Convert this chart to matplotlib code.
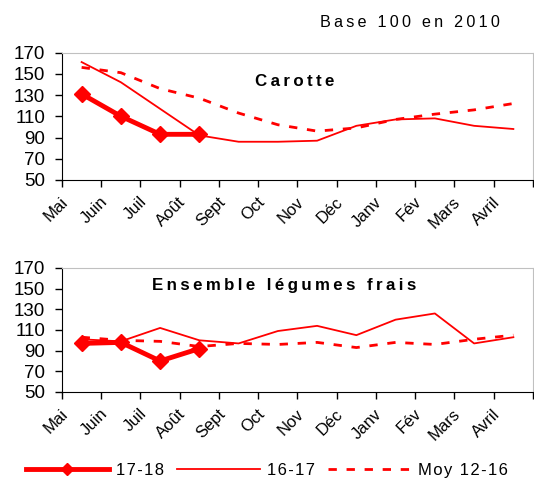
import matplotlib.pyplot as plt
import numpy as np
from matplotlib.transforms import ScaledTranslation

plt.rcParams['font.family'] = ['Liberation Sans', 'DejaVu Sans']

mois = ['Mai', 'Juin', 'Juil', 'Août', 'Sept', 'Oct', 'Nov', 'Déc',
        'Janv', 'Fév', 'Mars', 'Avril']

# Carotte
car_1718 = [131, 110, 93, 93]
car_1617 = [161, 142, 117, 92, 86, 86, 87, 101, 107, 108, 101, 98]
car_moy = [156, 151, 136, 127, 113, 102, 96, 99, 107, 112, 116, 122]

# Ensemble légumes frais
leg_1718 = [97, 98, 80, 92]
leg_1617 = [101, 99, 112, 100, 97, 109, 114, 105, 120, 126, 97, 103]
leg_moy = [103, 100, 99, 94, 97, 96, 98, 93, 98, 96, 101, 105]

rouge = '#ff0000'


def espace(txt, sep='\u200a'):
    # texte espacé façon Excel
    return sep.join(txt)


fig = plt.figure(figsize=(5.34, 4.84), dpi=100)
ax1 = fig.add_axes([0.1161, 0.6281, 0.882, 0.2634])
ax2 = fig.add_axes([0.1161, 0.1901, 0.882, 0.2562])

x = np.arange(len(mois)) + 0.5

for ax, s1, s2, s3, titre, tx, ty in [
        (ax1, car_1718, car_1617, car_moy, 'Carotte', 0.494, 0.77),
        (ax2, leg_1718, leg_1617, leg_moy, 'Ensemble légumes frais',
         0.472, 0.855)]:
    ax.plot(x, s3, color=rouge, lw=2, dashes=(3, 3.5), label='Moy 12-16')
    ax.plot(x, s2, color=rouge, lw=1.3, label='16-17')
    ax.plot(x[:len(s1)], s1, color=rouge, lw=3.5, marker='D', ms=8,
            label='17-18')
    ax.set_xlim(0, 12)
    ax.set_ylim(50, 170)
    ax.set_yticks(range(50, 171, 20))
    ax.set_xticks(np.arange(13), minor=True)
    ax.set_xticks(x, mois)
    ax.tick_params(axis='x', which='major', length=0, pad=14,
                   labelsize=12)
    ax.tick_params(axis='x', which='minor', length=5, width=1,
                   direction='out')
    ax.tick_params(axis='y', length=5, width=1, direction='out',
                   labelsize=13.5, pad=7)
    for lab in ax.get_xticklabels():
        lab.set_rotation(45)
        lab.set_ha('right')
        lab.set_va('center')
        lab.set_rotation_mode('anchor')
        lab.set_transform(lab.get_transform() +
                          ScaledTranslation(-0.16, 0, fig.dpi_scale_trans))
    for sp in ['top', 'right']:
        ax.spines[sp].set_color('#c0c0c0')
    for sp in ['left', 'bottom']:
        ax.spines[sp].set_color('black')
    ax.text(tx, ty, espace(titre, '\u2009'), transform=ax.transAxes,
            ha='center', va='center', fontsize=12.2, fontweight='bold')

fig.text(0.768, 0.953, espace('Base 100 en 2010', '\u2009'), ha='center',
         va='center', fontsize=11.6)

h, l = ax1.get_legend_handles_labels()
fig.legend([h[2], h[1], h[0]], [espace(l[2]), espace(l[1]), espace(l[0])],
           loc='center', bbox_to_anchor=(0.5, 0.028), ncol=3, frameon=False,
           fontsize=12, handlelength=5, columnspacing=0.8, handletextpad=0.4,
           markerscale=0.8)

plt.savefig('out.png', dpi=100)
